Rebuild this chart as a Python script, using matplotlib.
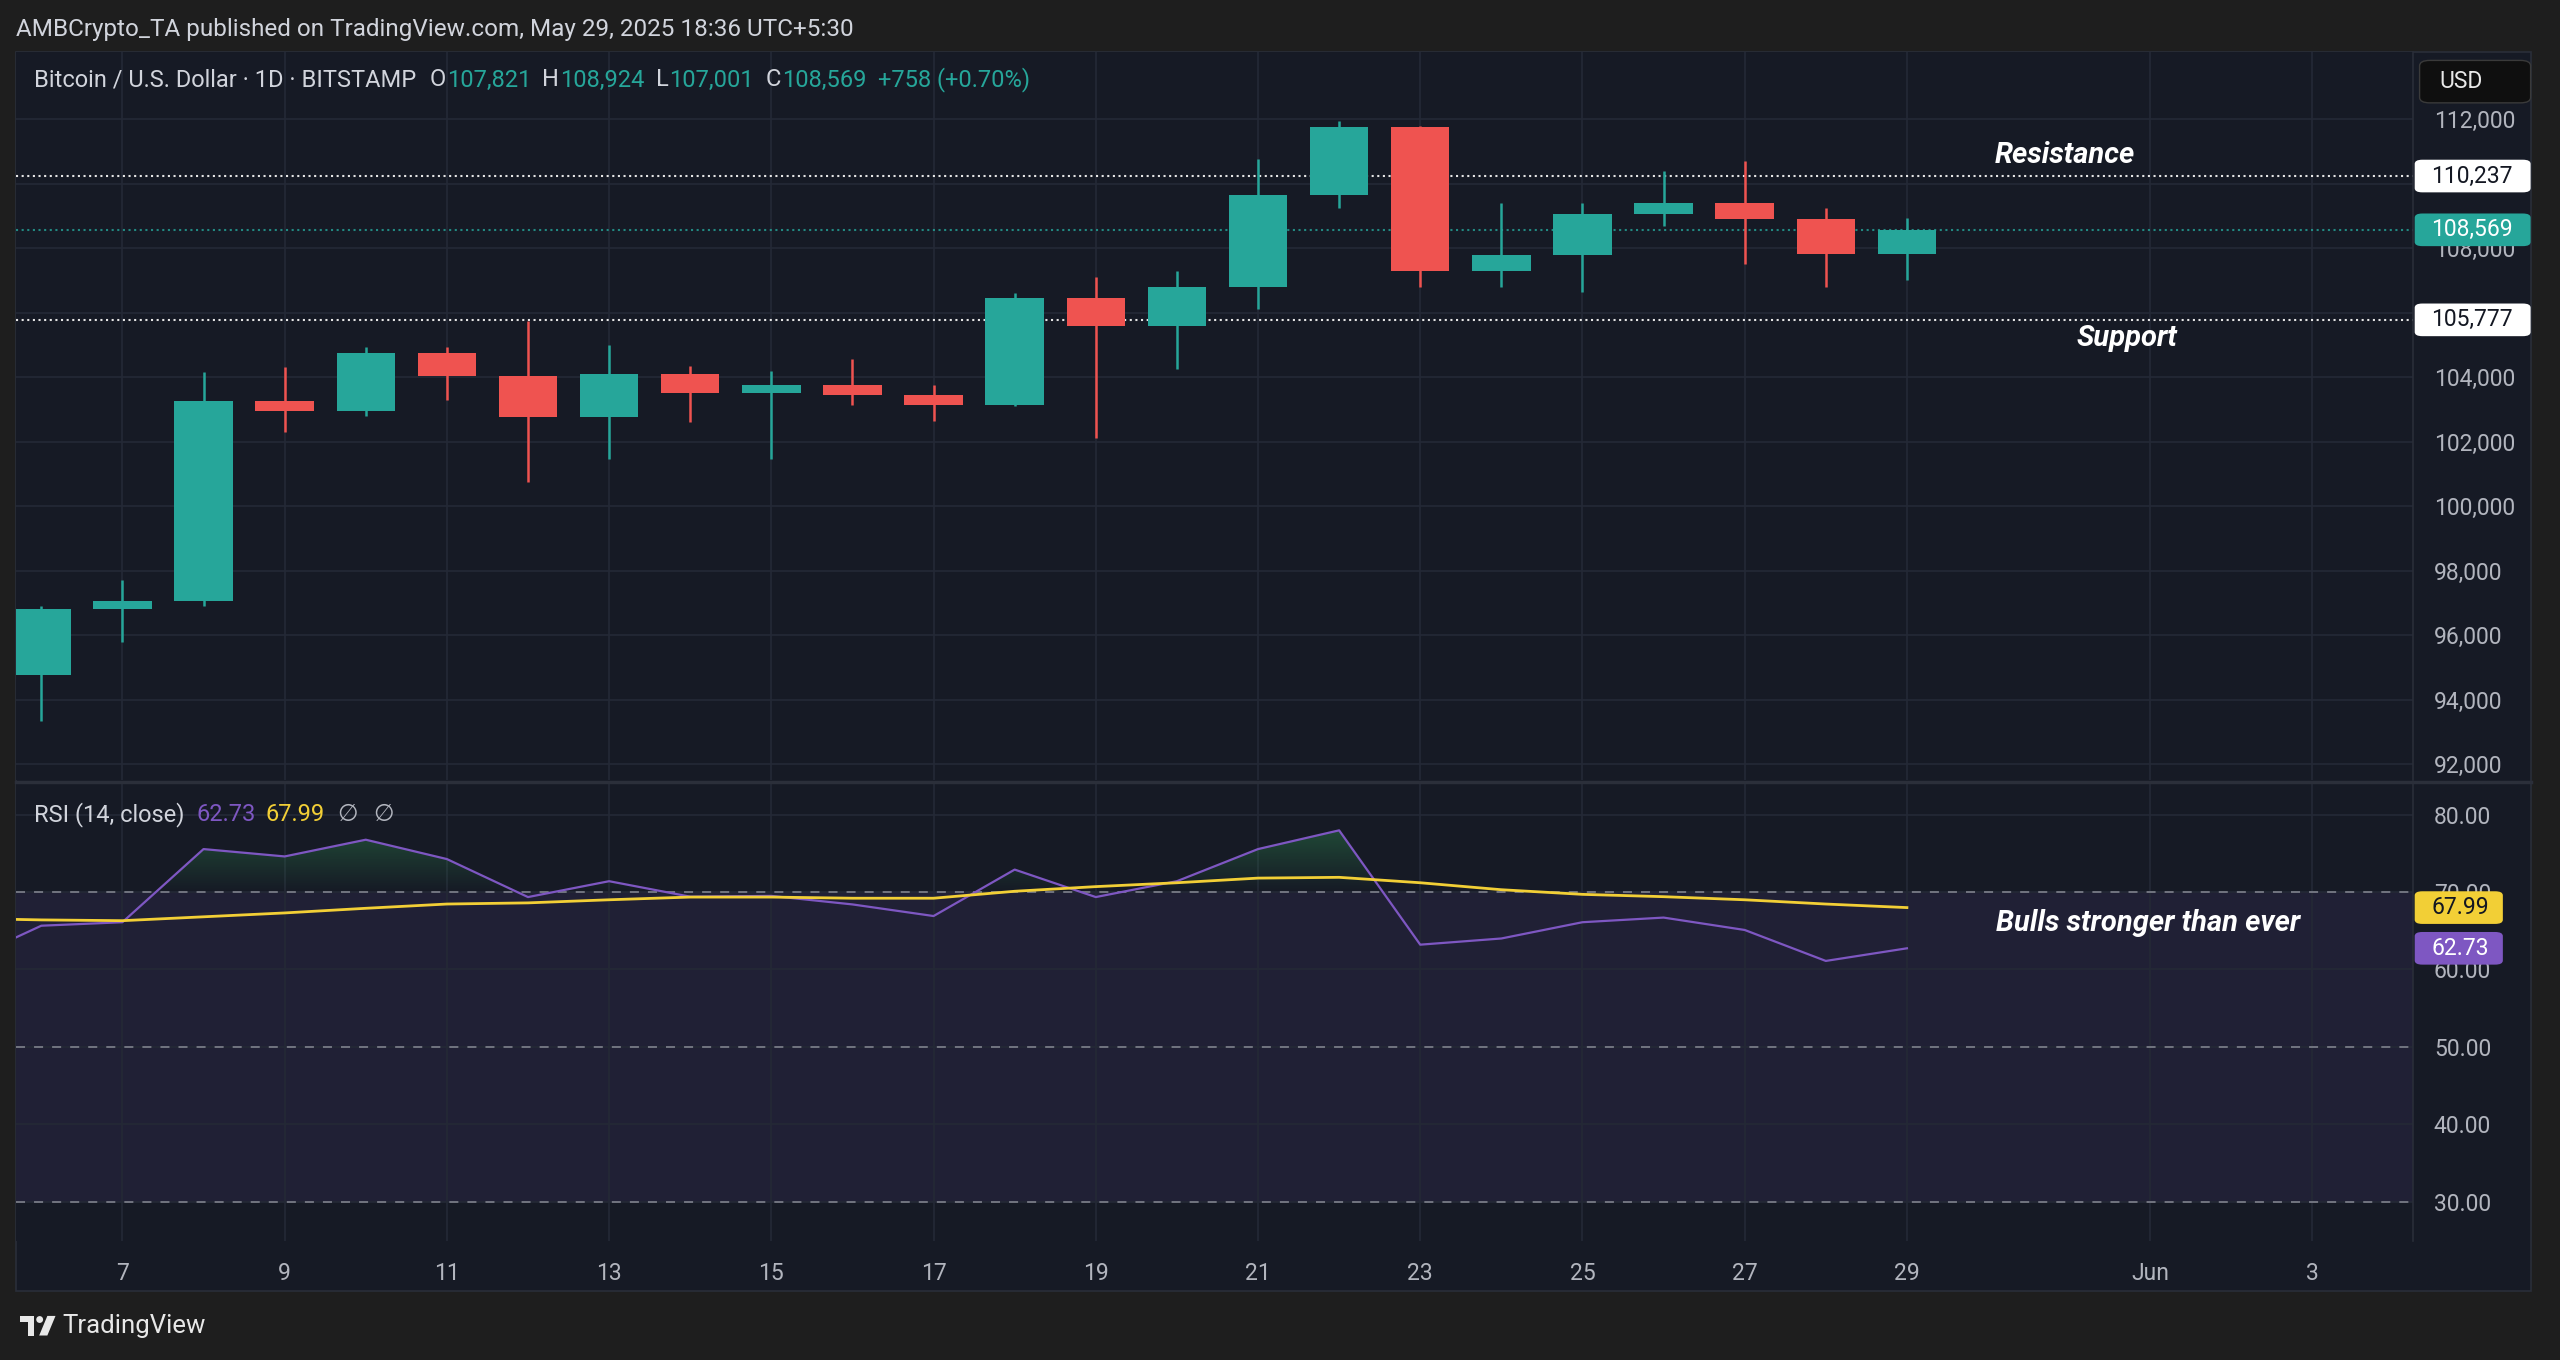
import numpy as np
import matplotlib
matplotlib.use("Agg")
import matplotlib.pyplot as plt
from matplotlib.patches import Rectangle, Polygon, Ellipse, FancyBboxPatch
from matplotlib.lines import Line2D
from matplotlib.path import Path
from matplotlib.colors import LinearSegmentedColormap
from matplotlib.ticker import FuncFormatter

plt.rcParams['font.family'] = ['Roboto', 'DejaVu Sans']

# ---- data (BTC/USD daily, May 2025) ----
days = [6, 7, 8, 9, 10, 11, 12, 13, 14, 15, 16, 17, 18, 19, 20, 21, 22, 23, 24, 25, 26, 27, 28, 29]
opens = [94750, 96800, 97050, 103250, 102950, 104750, 104050, 102750, 104100, 103500, 103750, 103450,
         103150, 106450, 105600, 106800, 109650, 111750, 107300, 107800, 109050, 109400, 108900, 107821]
highs = [96900, 97700, 104150, 104300, 104950, 104950, 105750, 105000, 104350, 104200, 104550, 103750,
         106600, 107100, 107300, 110750, 111950, 111800, 109400, 109400, 110400, 110700, 109250, 108924]
lows = [93350, 95800, 96900, 102300, 102800, 103300, 100750, 101450, 102600, 101450, 103150, 102650,
        103100, 102100, 104250, 106100, 109250, 106800, 106800, 106650, 108700, 107500, 106800, 107001]
closes = [96800, 97050, 103250, 102950, 104750, 104050, 102750, 104100, 103500, 103750, 103450, 103150,
          106450, 105600, 106800, 109650, 111750, 107300, 107800, 109050, 109400, 108900, 107811, 108569]

rsi_days = [5] + days
rsi = [60.8, 65.65, 66.1, 75.55, 74.6, 76.76, 74.26, 69.35, 71.4, 69.4, 69.5, 68.4, 66.9,
       72.9, 69.35, 71.4, 75.55, 77.97, 63.2, 64.0, 66.1, 66.7, 65.1, 61.1, 62.73]
rsi_ma = [66.6, 66.4, 66.3, 66.8, 67.3, 67.9, 68.45, 68.6, 69.0, 69.35, 69.35, 69.2, 69.2,
          70.1, 70.7, 71.2, 71.8, 71.9, 71.2, 70.3, 69.7, 69.4, 69.0, 68.45, 67.99]

resistance = 110237
support = 105777
last_price = 108569

price_ticks = list(range(92000, 112001, 2000))
hidden_price_ticks = [110000]  # fully covered by the resistance tag
rsi_ticks = [30, 40, 50, 60, 70, 80]
time_ticks = [7, 9, 11, 13, 15, 17, 19, 21, 23, 25, 27, 29, 32, 34]
time_labels = ['7', '9', '11', '13', '15', '17', '19', '21', '23', '25', '27', '29', 'Jun', '3']

# ---- colours ----
OUTER = '#1e1e1e'
PANE = '#161a25'
GRID = '#242936'
TXT = '#b2b5be'
UP = '#26a69a'
DOWN = '#ef5350'
PURPLE = '#7e57c2'
YELLOW = '#f2cf36'

W, H = 1568.0, 833.0  # layout measured on a 1568x833 view


def fx(px):
    return px / W


def fy(py):
    return 1 - py / H


fig = plt.figure(figsize=(25.6, 13.6), dpi=100, facecolor=OUTER)

# chart panel background
fig.patches.append(Rectangle((fx(10), fy(791)), fx(1540), 759 / H, transform=fig.transFigure,
                             facecolor=PANE, edgecolor='#2a2e39', lw=1.2, zorder=-5))

ax = fig.add_axes([fx(10), fy(478), fx(1468), 446 / H], facecolor=PANE)
ax2 = fig.add_axes([fx(10), fy(760), fx(1468), 280 / H], facecolor=PANE, sharex=ax)

for a in (ax, ax2):
    for s in ('top', 'left', 'bottom'):
        a.spines[s].set_visible(False)
    a.spines['right'].set_color('#2a2e39')
    a.spines['right'].set_linewidth(1.2)
    a.yaxis.tick_right()
    a.tick_params(axis='y', length=0, pad=15, labelsize=16.5, labelcolor=TXT)
    a.tick_params(axis='x', length=0)
    a.set_axisbelow(True)
    a.grid(True, color=GRID, lw=1.2)

# ---- price pane ----
ax.set_xlim(5.692, 35.24)
ax.set_ylim(91494, 114076)
ax.set_yticks(price_ticks)
ax.yaxis.set_major_formatter(FuncFormatter(lambda v, p: '' if int(v) in hidden_price_ticks else f'{int(v):,}'))
ax.set_xticks(time_ticks)
plt.setp(ax.get_xticklabels(), visible=False)

dot = (0, (1, 1.7))
ax.axhline(resistance, color='#e6e6e6', lw=1.5, ls=dot, zorder=1.5)
ax.axhline(support, color='#e6e6e6', lw=1.5, ls=dot, zorder=1.5)
ax.axhline(last_price, color=UP, lw=1.5, ls=dot, alpha=0.8, zorder=1.5)

o = np.array(opens)
c = np.array(closes)
cols = [UP if cc >= oo else DOWN for oo, cc in zip(o, c)]
ax.vlines(days, lows, highs, colors=cols, lw=1.8, zorder=3)
body_h = np.maximum(np.abs(c - o), 60)
ax.bar(days, body_h, bottom=np.minimum(o, c), width=0.72, color=cols, zorder=4, lw=0)

note_kw = dict(color='white', fontsize=21, fontweight='bold', fontstyle='italic',
               ha='center', va='center', zorder=6)
ax.text(30.95, 110880, 'Resistance', **note_kw)
ax.text(31.71, 105215, 'Support', **note_kw)

# ---- RSI pane ----
ax2.set_ylim(24.94, 84.0)
ax2.set_yticks(rsi_ticks)
ax2.yaxis.set_major_formatter(FuncFormatter(lambda v, p: f'{v:.2f}'))
ax2.set_xticks(time_ticks)
ax2.set_xticklabels(time_labels)
ax2.tick_params(axis='x', pad=15, labelsize=16.5, labelcolor=TXT)

ax2.axhspan(30, 70, color=PURPLE, alpha=0.1, lw=0, zorder=0.5)
for lvl in (70, 50, 30):
    ax2.axhline(lvl, color='#787b86', lw=1.3, ls=(0, (5, 5)), zorder=1)

r = np.array(rsi)
fb = ax2.fill_between(rsi_days, r, 70, where=r > 70, interpolate=True, color='none')
clip = Path.make_compound_path(*fb.get_paths())
fb.remove()
gcmap = LinearSegmentedColormap.from_list('ob', [(0.2, 0.65, 0.35, 0.0), (0.2, 0.65, 0.35, 0.38)])
grad = np.linspace(0, 1, 256).reshape(-1, 1)
im = ax2.imshow(grad, extent=[5, 30, 70, 79], origin='lower', aspect='auto', cmap=gcmap, zorder=1.5)
im.set_clip_path(clip, transform=ax2.transData)
ax2.set_xlim(5.692, 35.24)
ax2.set_ylim(24.94, 84.0)

ax2.plot(rsi_days, rsi, color=PURPLE, lw=1.6, zorder=3)
ax2.plot(rsi_days, rsi_ma, color=YELLOW, lw=2.0, zorder=3.5)

ax2.text(31.97, 66.0, 'Bulls stronger than ever', **note_kw)

# pane separator
fig.lines.append(Line2D([fx(10), fx(1550)], [fy(479), fy(479)], transform=fig.transFigure,
                        color='#2b2f3a', lw=2.5))


# ---- price tags on the scale ----
def tag(axis, value, text, face, fg, right_px):
    yc = fig.transFigure.inverted().transform(axis.transData.transform((0, value)))[1]
    h = 20 / H
    fig.patches.append(FancyBboxPatch((fx(1479), yc - h / 2), fx(right_px - 1479), h,
                                      boxstyle='round,pad=0,rounding_size=0.003',
                                      transform=fig.transFigure, facecolor=face, edgecolor='none', zorder=2))
    fig.text(fx(1489), yc, text, color=fg, fontsize=16.5, ha='left', va='center', zorder=5)


tag(ax, resistance, f'{resistance:,}', 'white', '#131722', 1550)
tag(ax, last_price, f'{last_price:,}', UP, 'white', 1550)
tag(ax, support, f'{support:,}', 'white', '#131722', 1550)
tag(ax2, rsi_ma[-1], f'{rsi_ma[-1]:.2f}', YELLOW, '#131722', 1533)
tag(ax2, rsi[-1], f'{rsi[-1]:.2f}', PURPLE, 'white', 1533)

# USD button
fig.patches.append(FancyBboxPatch((fx(1482), fy(63)), fx(68), 26 / H,
                                  boxstyle='round,pad=0,rounding_size=0.004', transform=fig.transFigure,
                                  facecolor='#0f0f0f', edgecolor='#3a3a3a', lw=1, zorder=2))
fig.text(fx(1494), fy(50), 'USD', color='#e8e8e8', fontsize=16.5, ha='left', va='center', zorder=5)

# ---- header texts ----
fig.text(fx(10), fy(18), 'AMBCrypto_TA published on TradingView.com, May 29, 2025 18:36 UTC+5:30',
         color='#d1d4dc', fontsize=17.5, ha='left', va='center')

renderer = fig.canvas.get_renderer()


def run_text(x, y, parts, size):
    for s, col, gap in parts:
        t = fig.text(x, y, s, color=col, fontsize=size, ha='left', va='center', zorder=5)
        bb = t.get_window_extent(renderer=renderer)
        x = fig.transFigure.inverted().transform((bb.x1, bb.y0))[0] + fx(gap)


change = closes[-1] - closes[-2]
pct = change / closes[-2] * 100
LBL = '#d1d4dc'
run_text(fx(21), fy(49), [
    ('Bitcoin / U.S. Dollar · 1D · BITSTAMP', LBL, 8),
    ('O', LBL, 0.5), (f'{opens[-1]:,}', UP, 7),
    ('H', LBL, 0.5), (f'{highs[-1]:,}', UP, 7),
    ('L', LBL, 0.5), (f'{lows[-1]:,}', UP, 7),
    ('C', LBL, 0.5), (f'{closes[-1]:,}', UP, 7),
    (f'+{change:,} (+{pct:.2f}%)', UP, 0),
], 17)

run_text(fx(21), fy(499), [
    ('RSI (14, close)', LBL, 7),
    (f'{rsi[-1]:.2f}', PURPLE, 6),
    (f'{rsi_ma[-1]:.2f}', YELLOW, 8),
    ('∅', TXT, 9),
    ('∅', TXT, 0),
], 17)

# ---- TradingView logo ----
fig.patches.append(Polygon([(fx(12), fy(806)), (fx(21), fy(806)), (fx(21), fy(818)), (fx(17), fy(818)),
                            (fx(17), fy(810)), (fx(12), fy(810))], closed=True,
                           transform=fig.transFigure, facecolor='#e8e8e8', edgecolor='none'))
fig.patches.append(Ellipse((fx(24.3), fy(808.2)), 4.2 / W, 4.2 / H, transform=fig.transFigure,
                           facecolor='#e8e8e8', edgecolor='none'))
fig.patches.append(Polygon([(fx(29), fy(806)), (fx(34), fy(806)), (fx(29), fy(818)), (fx(24), fy(818))],
                           closed=True, transform=fig.transFigure, facecolor='#e8e8e8', edgecolor='none'))
fig.text(fx(38), fy(812), 'TradingView', color='#e8e8e8', fontsize=18.5, ha='left', va='center')

fig.savefig('out.png', dpi=100, facecolor=OUTER)
